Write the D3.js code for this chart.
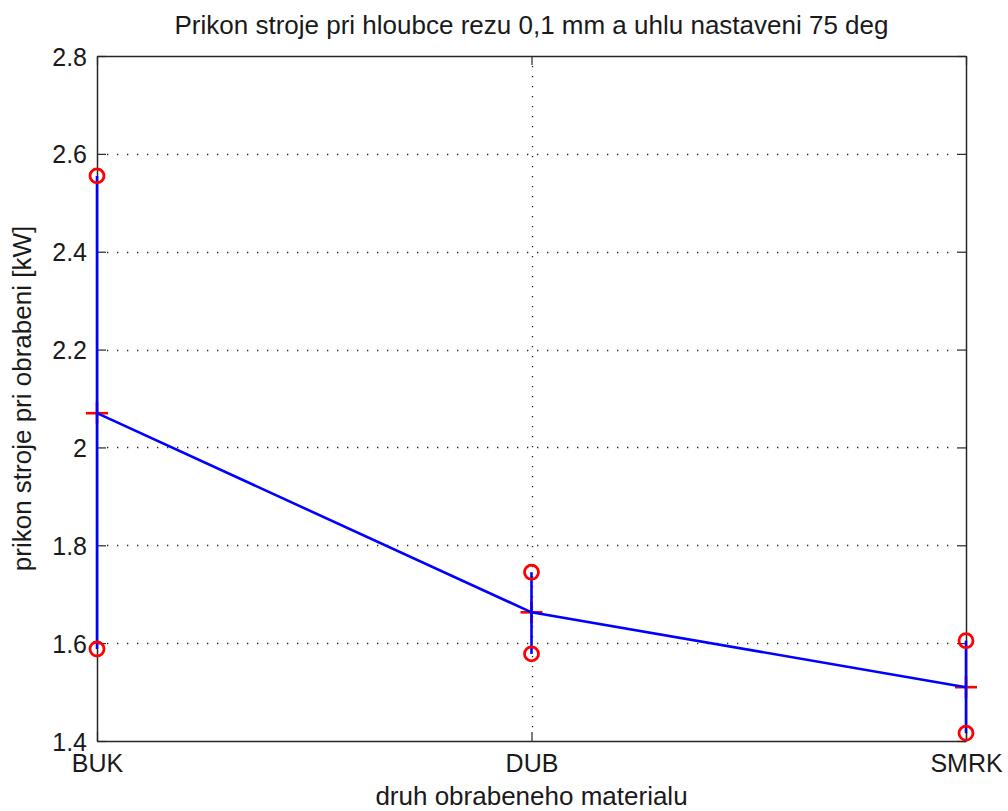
<!DOCTYPE html>
<html>
<head>
<meta charset="utf-8">
<script src="https://cdn.jsdelivr.net/npm/d3@7"></script>
<style>
  html, body { margin: 0; padding: 0; background: #fff; }
  svg { display: block; font-family: "Liberation Sans", Arial, Helvetica, sans-serif; }
</style>
</head>
<body>
<svg id="chart" width="1008" height="811"></svg>
<script>
// Wood species (x categories)
const categories = ["BUK", "DUB", "SMRK"];
// Mean machine power input [kW]
const meanValues = [2.07, 1.663, 1.51];
// Max and min measured power input [kW]
const maxValues = [2.555, 1.745, 1.605];
const minValues = [1.588, 1.578, 1.416];
// Y axis ticks
const yTicks = [1.4, 1.6, 1.8, 2.0, 2.2, 2.4, 2.6, 2.8];
const yTickLabels = ["1.4", "1.6", "1.8", "2", "2.2", "2.4", "2.6", "2.8"];

const titleText = "Prikon stroje pri hloubce rezu 0,1 mm a uhlu nastaveni 75 deg";
const xLabelText = "druh obrabeneho materialu";
const yLabelText = "prikon stroje pri obrabeni [kW]";

const svg = d3.select("#chart");
const plotLeft = 97, plotRight = 966, plotTop = 56, plotBottom = 741;
const textColor = "#1a1a1a";

const x = d3.scalePoint().domain(categories).range([plotLeft, plotRight]).padding(0);
const y = d3.scaleLinear().domain([1.4, 2.8]).range([plotBottom, plotTop]);

// Dotted grid
const grid = svg.append("g").attr("stroke", "#222").attr("stroke-width", 1.3)
  .attr("stroke-dasharray", "1.3,8.7");
yTicks.slice(1, -1).forEach(t => {
  grid.append("line").attr("x1", plotLeft + 10).attr("x2", plotRight - 10)
    .attr("y1", Math.round(y(t)) + 0.5).attr("y2", Math.round(y(t)) + 0.5);
});
categories.slice(1, -1).forEach(c => {
  grid.append("line").attr("x1", Math.round(x(c)) + 0.5).attr("x2", Math.round(x(c)) + 0.5)
    .attr("y1", plotTop + 10).attr("y2", plotBottom - 10);
});

// Axes with inward ticks on all four sides
const yAxisL = d3.axisLeft(y).tickValues(yTicks).tickFormat((d, i) => yTickLabels[i]).tickSizeInner(-9).tickSizeOuter(0).tickPadding(10);
const yAxisR = d3.axisRight(y).tickValues(yTicks).tickFormat("").tickSizeInner(-9).tickSizeOuter(0);
const xAxisB = d3.axisBottom(x).tickSizeInner(-9).tickSizeOuter(0).tickPadding(13);
const xAxisT = d3.axisTop(x).tickFormat("").tickSizeInner(-9).tickSizeOuter(0);

function styleAxis(g) {
  g.select(".domain").attr("stroke", "#262626").attr("stroke-width", 1.5);
  g.selectAll(".tick line").attr("stroke", "#262626").attr("stroke-width", 1.2);
  g.selectAll(".tick text").attr("fill", textColor).attr("font-size", 25)
    .attr("font-family", "'Liberation Sans', Arial, sans-serif");
}
svg.append("g").attr("transform", `translate(${plotLeft},0)`).call(yAxisL).call(styleAxis)
  .selectAll(".tick text").attr("dy", "0.36em");
svg.append("g").attr("transform", `translate(${plotRight},0)`).call(yAxisR).call(styleAxis);
svg.append("g").attr("transform", `translate(0,${plotBottom})`).call(xAxisB).call(styleAxis)
  .selectAll(".tick text").attr("dy", "0.71em");
svg.append("g").attr("transform", `translate(0,${plotTop})`).call(xAxisT).call(styleAxis);

// Red "+" markers at the means
const plus = svg.append("g").attr("stroke", "#ff0000").attr("stroke-width", 2.6);
categories.forEach((c, i) => {
  const cx = x(c), cy = y(meanValues[i]);
  plus.append("line").attr("x1", cx - 11).attr("x2", cx + 11).attr("y1", cy).attr("y2", cy);
  plus.append("line").attr("x1", cx).attr("x2", cx).attr("y1", cy - 11).attr("y2", cy + 11);
});

// Blue range bars from min to max
const ranges = svg.append("g").attr("stroke", "#0000ff").attr("stroke-width", 2.6);
categories.forEach((c, i) => {
  ranges.append("line").attr("x1", x(c)).attr("x2", x(c))
    .attr("y1", y(minValues[i])).attr("y2", y(maxValues[i]));
});

// Blue line connecting means
svg.append("path")
  .datum(meanValues)
  .attr("fill", "none").attr("stroke", "#0000ff").attr("stroke-width", 2.6)
  .attr("d", d3.line().x((d, i) => x(categories[i])).y(d => y(d)));

// Red circles at max and min
const circ = svg.append("g").attr("fill", "none").attr("stroke", "#ff0000").attr("stroke-width", 2.8);
categories.forEach((c, i) => {
  [maxValues[i], minValues[i]].forEach(v => {
    circ.append("circle").attr("cx", x(c)).attr("cy", y(v)).attr("r", 7);
  });
});

// Title and axis labels
svg.append("text").attr("x", (plotLeft + plotRight) / 2).attr("y", 34).attr("text-anchor", "middle")
  .attr("font-size", 26).attr("fill", textColor).text(titleText);
svg.append("text").attr("x", (plotLeft + plotRight) / 2).attr("y", 805).attr("text-anchor", "middle")
  .attr("font-size", 26).attr("fill", textColor).text(xLabelText);
svg.append("text").attr("transform", `translate(31,${(plotTop + plotBottom) / 2}) rotate(-90)`)
  .attr("text-anchor", "middle").attr("font-size", 26).attr("fill", textColor).text(yLabelText);
</script>
</body>
</html>
